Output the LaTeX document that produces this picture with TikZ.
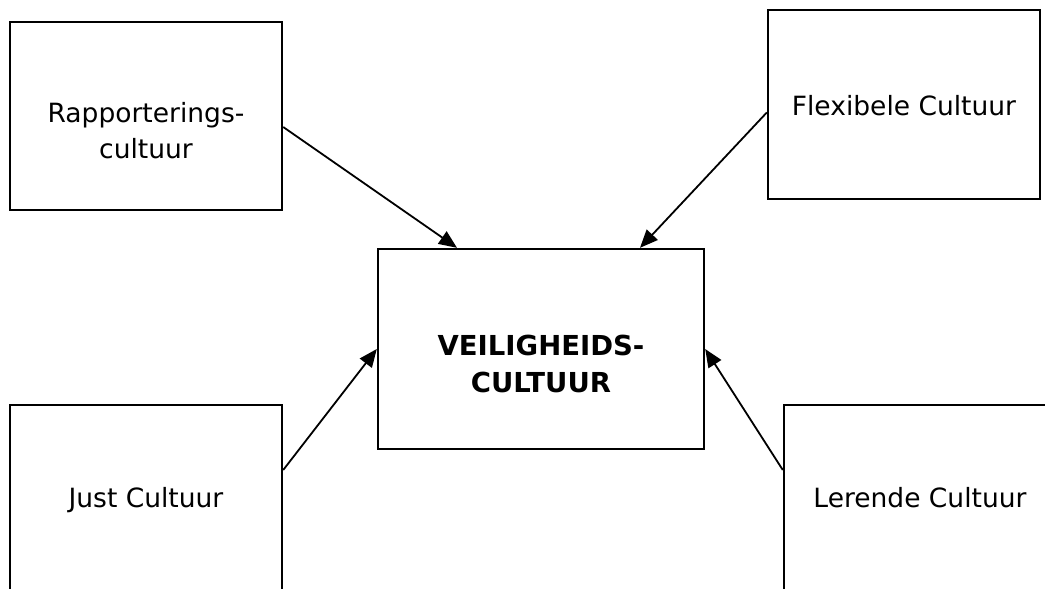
\documentclass[tikz,border=0pt]{standalone}
\usepackage{fontspec}
\setmainfont{DejaVu Sans}
\usetikzlibrary{arrows.meta}

\begin{document}
\begin{tikzpicture}[
  x=1pt, y=-1pt,
  box/.style={draw, line width=2.4pt, inner sep=0pt, minimum width=272pt, minimum height=188pt},
  lbl/.style={align=center, inner sep=0pt, font=\fontsize{26.5}{36}\selectfont},
  arr/.style={-{Triangle[length=18pt, width=15pt]}, line width=1.8pt}
]
\useasboundingbox (0,0) rectangle (1045,589);
\clip (0,0) rectangle (1045,589);

\node[box] (rapport) at (146,116) {};
\node[box, minimum height=189pt] (flexibel) at (904,104.5) {};
\node[box, minimum width=326pt, minimum height=200pt] (veilig) at (541,349) {};
\node[box] (just) at (146,499) {};
\node[box] (lerend) at (920,499) {};

\node[lbl] (rapportlbl) at (146,131) {Rapporterings-\\cultuur};
\node[lbl, anchor=base] (flexibellbl) at (904,115) {Flexibele Cultuur};
\node[lbl, font=\fontsize{27.5}{37}\selectfont\bfseries] (veiliglbl) at (541,364) {VEILIGHEIDS-\\CULTUUR};
\node[lbl, anchor=base] (justlbl) at (146,507) {Just Cultuur};
\node[lbl, anchor=base] (lerendlbl) at (920,507) {Lerende Cultuur};

\draw[arr] ([yshift=-11pt]rapport.east) -- ([xshift=-84pt]veilig.north);
\draw[arr] ([yshift=-8pt]flexibel.west) -- ([xshift=99pt]veilig.north);
\draw[arr] ([yshift=29pt]just.east) -- (veilig.west);
\draw[arr] ([yshift=29pt]lerend.west) -- (veilig.east);
\end{tikzpicture}
\end{document}
